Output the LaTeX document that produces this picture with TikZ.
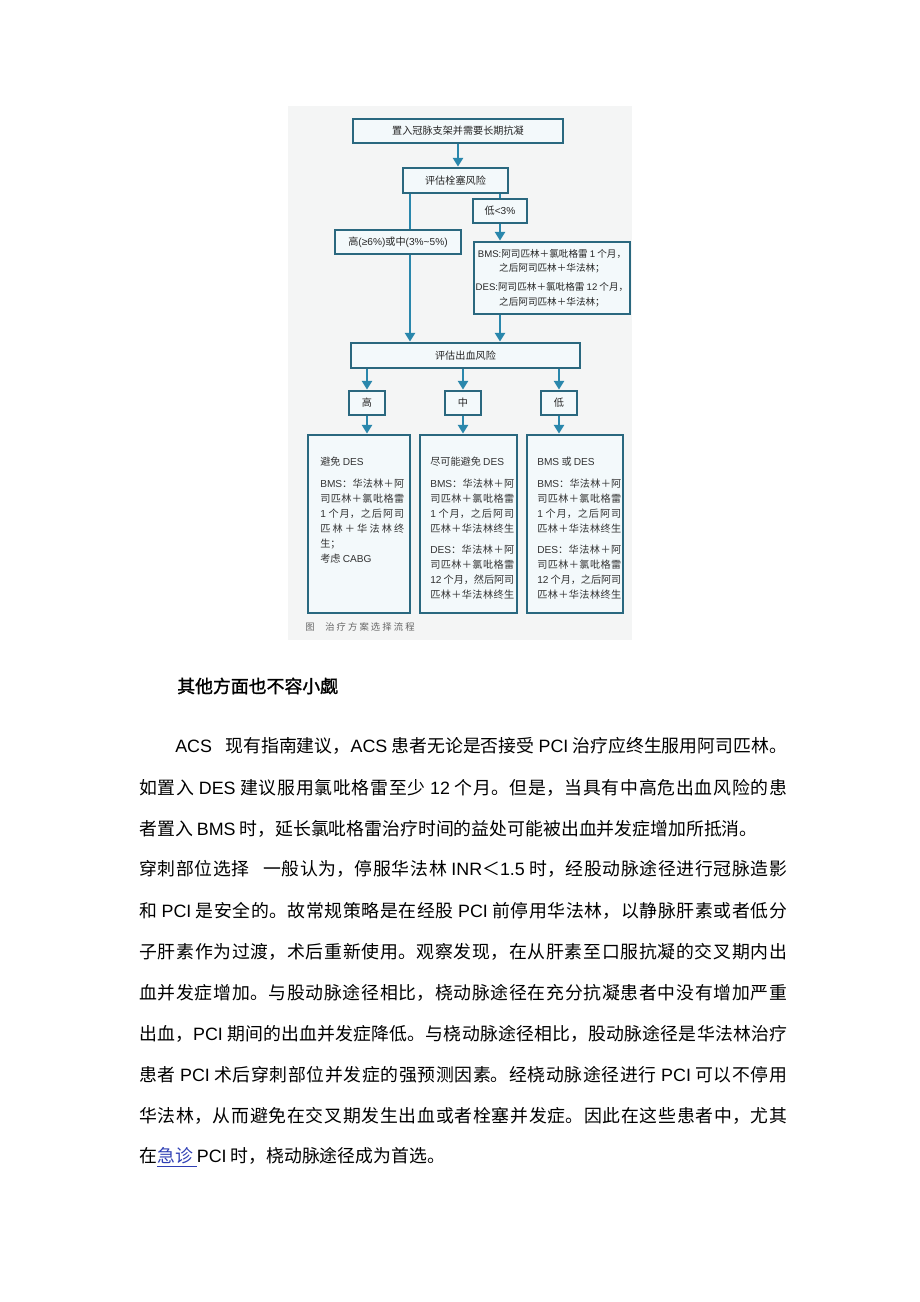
\documentclass[tikz,border=0pt]{standalone}
\usepackage{fontspec}
\setmainfont{Noto Sans CJK SC}
\newfontfamily\lat{Liberation Sans}
\newfontfamily\heavy[FakeBold=1.5]{Noto Sans CJK SC}
\usetikzlibrary{arrows.meta}
\XeTeXlinebreaklocale "zh"
\XeTeXlinebreakskip=0pt plus 2pt minus 0.4pt
\definecolor{frame}{HTML}{2A687F}
\definecolor{arr}{HTML}{2A87AC}
\definecolor{boxfill}{HTML}{F3F9FB}
\definecolor{figbg}{HTML}{F4F5F5}
\definecolor{linkblue}{HTML}{2F3FB4}
\newcommand{\en}[1]{{\lat #1}}
\newcommand{\jl}[2][486pt]{\parbox[t]{#1}{\parfillskip=0pt\relax #2}}
\newcommand{\jb}[1]{\parbox[t]{63pt}{\parfillskip=0pt\relax #1}}

\begin{document}
\begin{tikzpicture}[x=0.75pt, y=-0.75pt,
        box/.style={draw=frame, line width=2.1pt, fill=boxfill, inner sep=0pt, text=black!85, font=\fontsize{7.6}{10}\selectfont},
        arrow/.style={draw=arr, line width=1.6pt, -{Triangle[length=6.5pt, width=7.5pt]}},
        link/.style={draw=arr, line width=1.6pt},
        small/.style={anchor=north west, inner sep=0pt, align=left, text=black!80, font=\fontsize{7.6}{11.2}\selectfont},
        body/.style={anchor=west, inner sep=0pt, font=\fontsize{13.4}{16}\selectfont}]
        \useasboundingbox (0,0) rectangle (920,1302);
        \fill[white] (0,0) rectangle (920,1302);
        \fill[figbg] (288,106) rectangle (632,640);

        \node[box, minimum width=157.5pt, minimum height=18pt] (stent) at (458,131) {置入冠脉支架并需要长期抗凝};
        \node[box, minimum width=78.75pt, minimum height=18.75pt] (embol) at (455.5,180.5) {评估栓塞风险};
        \node[box, minimum width=40.5pt, minimum height=18pt] (low) at (500,211) {低\en{<3\%}};
        \node[box, minimum width=94.5pt, minimum height=18pt] (high) at (398,242) {高\en{(≥6\%)}或中\en{(3\%\textasciitilde5\%)}};
        \node[box, minimum width=117pt, minimum height=54pt, align=center, font=\fontsize{7.2}{11}\selectfont] (bms) at (552,278)
            {\en{BMS:}阿司匹林＋氯吡格雷 \en{1} 个月，\\ 之后阿司匹林＋华法林；\\[3pt]
             \en{DES:}阿司匹林＋氯吡格雷 \en{12} 个月，\\ 之后阿司匹林＋华法林；};
        \node[box, minimum width=171.75pt, minimum height=18.75pt] (bleed) at (465.5,355.5) {评估出血风险};
        \node[box, minimum width=27pt, minimum height=18pt] (bh) at (367,403) {高};
        \node[box, minimum width=27pt, minimum height=18pt] (bm) at (463,403) {中};
        \node[box, minimum width=27pt, minimum height=18pt] (bl) at (559,403) {低};
        \node[box, minimum width=76.5pt, minimum height=133.5pt] (lbox) at (359,524) {};
        \node[box, minimum width=72.75pt, minimum height=133.5pt] (mbox) at (468.5,524) {};
        \node[box, minimum width=72pt, minimum height=133.5pt] (rbox) at (575,524) {};

        \node[small] (ltext) at (320,457) {避免 \en{DES}\\[5pt]
            \jb{\en{BMS}：华法林＋阿}\\
            \jb{司匹林＋氯吡格雷}\\
            \jb{\en{1} 个月，之后阿司}\\
            \jb{匹林＋华法林终}\\
            生；\\
            考虑 \en{CABG}};
        \node[small] (mtext) at (430,457) {尽可能避免 \en{DES}\\[5pt]
            \jb{\en{BMS}：华法林＋阿}\\
            \jb{司匹林＋氯吡格雷}\\
            \jb{\en{1} 个月，之后阿司}\\
            \jb{匹林＋华法林终生}\\[5pt]
            \jb{\en{DES}：华法林＋阿}\\
            \jb{司匹林＋氯吡格雷}\\
            \jb{\en{12} 个月，然后阿司}\\
            \jb{匹林＋华法林终生}};
        \node[small] (rtext) at (537,457) {\en{BMS} 或 \en{DES}\\[5pt]
            \jb{\en{BMS}：华法林＋阿}\\
            \jb{司匹林＋氯吡格雷}\\
            \jb{\en{1} 个月，之后阿司}\\
            \jb{匹林＋华法林终生}\\[5pt]
            \jb{\en{DES}：华法林＋阿}\\
            \jb{司匹林＋氯吡格雷}\\
            \jb{\en{12} 个月，之后阿司}\\
            \jb{匹林＋华法林终生}};
        \node[anchor=west, inner sep=0pt, text=black!60, font=\fontsize{7}{8}\selectfont] (cap) at (305,627)
            {\parbox[t]{82pt}{\parfillskip=0pt\relax 图\hspace{8pt}治疗方案选择流程}};

        \coordinate (hx) at (410,0);
        \draw[arrow] (stent.south) -- (stent.south |- embol.north);
        \draw[link] (hx |- embol.south) -- (hx |- high.north);
        \draw[link] (low.north |- embol.south) -- (low.north);
        \draw[arrow] (low.south) -- (low.south |- bms.north);
        \draw[arrow] (hx |- high.south) -- (hx |- bleed.north);
        \draw[arrow] (low.south |- bms.south) -- (low.south |- bleed.north);
        \foreach \a/\b in {bh/lbox, bm/mbox, bl/rbox} {
            \draw[arrow] (bleed.south -| \a.north) -- (\a.north);
            \draw[arrow] (\a.south) -- (\a.south |- \b.north);
        }

        \node[body, font=\heavy\fontsize{13.4}{16}\selectfont] (title) at (177,686) {其他方面也不容小觑};
        \node[body] (p1) at (175,746) {\jl[459pt]{\en{ACS}\hspace{10pt}现有指南建议，\en{ACS} 患者无论是否接受 \en{PCI} 治疗应终生服用阿司匹林。}};
        \node[body] (p2) at (139,788) {\jl{如置入 \en{DES} 建议服用氯吡格雷至少 \en{12} 个月。但是，当具有中高危出血风险的患}};
        \node[body] (p3) at (139,829) {者置入 \en{BMS} 时，延长氯吡格雷治疗时间的益处可能被出血并发症增加所抵消。};
        \node[body] (p4) at (139,869) {\jl{穿刺部位选择\hspace{10pt}一般认为，停服华法林 \en{INR}＜\en{1.5} 时，经股动脉途径进行冠脉造影}};
        \node[body] (p5) at (139,911) {\jl{和 \en{PCI} 是安全的。故常规策略是在经股 \en{PCI} 前停用华法林，以静脉肝素或者低分}};
        \node[body] (p6) at (139,952) {\jl{子肝素作为过渡，术后重新使用。观察发现，在从肝素至口服抗凝的交叉期内出}};
        \node[body] (p7) at (139,993) {\jl{血并发症增加。与股动脉途径相比，桡动脉途径在充分抗凝患者中没有增加严重}};
        \node[body] (p8) at (139,1034) {\jl{出血，\en{PCI} 期间的出血并发症降低。与桡动脉途径相比，股动脉途径是华法林治疗}};
        \node[body] (p9) at (139,1075) {\jl{患者 \en{PCI} 术后穿刺部位并发症的强预测因素。经桡动脉途径进行 \en{PCI} 可以不停用}};
        \node[body] (p10) at (139,1116) {\jl{华法林，从而避免在交叉期发生出血或者栓塞并发症。因此在这些患者中，尤其}};
        \node[body] (p11) at (139,1157) {在{\color{linkblue}\underline{急诊 }}\en{PCI} 时，桡动脉途径成为首选。};
\end{tikzpicture}
\end{document}
